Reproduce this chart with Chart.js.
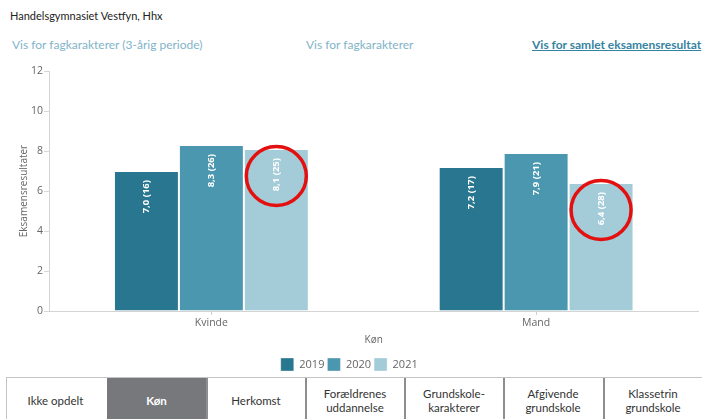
<!DOCTYPE html>
<html>
<head>
<meta charset="utf-8">
<script src="https://cdn.jsdelivr.net/npm/chart.js@4.4.1/dist/chart.umd.min.js"></script>
<style>
  html, body { margin:0; padding:0; background:#fff; width:702px; height:419px; overflow:hidden; }
  body { position:relative; font-family: Lato, "Open Sans", sans-serif; }
  #hdr { position:absolute; left:10px; top:9px; font-size:11px; color:#222; white-space:nowrap; }
  .lnk { position:absolute; top:37px; font-size:12px; color:#7fb4c8; white-space:nowrap; }
  .lnk.b { color:#3583a2; font-weight:bold; text-decoration:underline; }
  #wrap { position:absolute; left:0; top:0; width:702px; height:381px; }
  #tabs { position:absolute; left:6px; top:377px; width:720px; height:50px; border-top:1px solid #c4c4c4; background:#fff; }
  .tab { position:absolute; top:0; height:50px; width:98px; border-left:2px solid #8e8e8e; box-sizing:border-box;
         display:flex; align-items:flex-start; justify-content:center; text-align:center; font-size:11.5px; color:#333; line-height:14px; }
  .tab span { display:block; padding-top:9px; }
  .tab.one span { padding-top:16px; }
  .tab.act { background:#76787b; color:#fff; font-weight:bold; }
</style>
</head>
<body>
<div id="hdr">Handelsgymnasiet Vestfyn, Hhx</div>
<div class="lnk" style="left:12px">Vis for fagkarakterer (3-årig periode)</div>
<div class="lnk" style="left:306px">Vis for fagkarakterer</div>
<div class="lnk b" style="left:532px">Vis for samlet eksamensresultat</div>
<div id="wrap"><canvas id="c"></canvas></div>
<div id="tabs">
  <div class="tab one" style="left:0;border-left:1px solid #c4c4c4"><span>Ikke opdelt</span></div>
  <div class="tab one act" style="left:101px;border-left:none;width:99px"><span>Køn</span></div>
  <div class="tab one" style="left:200px"><span>Herkomst</span></div>
  <div class="tab" style="left:299px"><span>Forældrenes<br>uddannelse</span></div>
  <div class="tab" style="left:398px"><span>Grundskole-<br>karakterer</span></div>
  <div class="tab" style="left:497px"><span>Afgivende<br>grundskole</span></div>
  <div class="tab" style="left:597px"><span>Klassetrin<br>grundskole</span></div>
</div>
<script>
const categories = ['Kvinde', 'Mand'];
const years = ['2019', '2020', '2021'];
const values2019 = [7.0, 7.2];
const values2020 = [8.3, 7.9];
const values2021 = [8.1, 6.4];
const counts2019 = [16, 17];
const counts2020 = [26, 21];
const counts2021 = [25, 28];
const yTicks = [0, 2, 4, 6, 8, 10, 12];
const xTitle = 'Køn';
const yTitle = 'Eksamensresultater';
const colors = ['#28768f', '#4b97af', '#a3cbd8'];

const counts = [counts2019, counts2020, counts2021];
const allValues = [values2019, values2020, values2021];

const labelPlugin = {
  id: 'barLabels',
  afterDatasetsDraw(chart) {
    const ctx = chart.ctx;
    chart.data.datasets.forEach((ds, di) => {
      const meta = chart.getDatasetMeta(di);
      meta.data.forEach((bar, i) => {
        const txt = ds.data[i].toFixed(1).replace('.', ',') + ' (' + counts[di][i] + ')';
        ctx.save();
        ctx.translate(bar.x, bar.y + 9);
        ctx.rotate(-Math.PI / 2);
        ctx.font = 'bold 9.5px "Open Sans"';
        ctx.fillStyle = '#ffffff';
        ctx.textAlign = 'right';
        ctx.textBaseline = 'middle';
        ctx.fillText(txt, 0, 0);
        ctx.restore();
      });
    });
    // red annotation circles around the 2021 labels
    const meta = chart.getDatasetMeta(2);
    meta.data.forEach((bar) => {
      ctx.save();
      ctx.beginPath();
      ctx.ellipse(bar.x, bar.y + 27, 30, 29.5, 0, 0, Math.PI * 2);
      ctx.lineWidth = 3.5;
      ctx.strokeStyle = '#e3100f';
      ctx.stroke();
      ctx.restore();
    });
  }
};

new Chart(document.getElementById('c'), {
  type: 'bar',
  data: {
    labels: categories,
    datasets: years.map((y, i) => ({
      label: y,
      data: allValues[i],
      backgroundColor: colors[i],
      borderColor: 'rgba(255,255,255,0.35)',
      borderWidth: 1,
      categoryPercentage: 0.6,
      barPercentage: 1.0
    }))
  },
  options: {
    responsive: true,
    maintainAspectRatio: false,
    animation: false,
    layout: { padding: { top: 71, left: 0, right: 3.5, bottom: 0 } },
    plugins: {
      tooltip: { enabled: false },
      legend: {
        position: 'bottom',
        labels: {
          boxWidth: 13, boxHeight: 13, padding: 3,
          color: '#666', font: { family: 'Open Sans', size: 11 }
        }
      }
    },
    scales: {
      x: {
        grid: { display: true, drawOnChartArea: false, offset: false, tickLength: 4, color: '#cfcfcf' },
        border: { display: true, color: '#d4d4d4' },
        ticks: { color: '#666', font: { family: 'Open Sans', size: 10.5 }, padding: 2 },
        title: { display: true, text: xTitle, color: '#666', font: { family: 'Open Sans', size: 10 }, padding: { top: 0, bottom: 9 } },
        afterFit(s) { s.height = 44; }
      },
      y: {
        min: 0, max: 12,
        afterBuildTicks(s) { s.ticks = yTicks.map(v => ({ value: v })); },
        grid: { display: true, drawOnChartArea: false, tickLength: 5, color: '#d8d8d8' },
        border: { display: true, color: '#d4d4d4' },
        ticks: { color: '#666', font: { family: 'Open Sans', size: 10.5 }, padding: 1 },
        title: { display: true, text: yTitle, color: '#666', font: { family: 'Open Sans', size: 10 }, padding: { top: 18, bottom: 0 } },
        afterFit(s) { s.width = 49; }
      }
    }
  },
  plugins: [labelPlugin]
});
</script>
</body>
</html>
